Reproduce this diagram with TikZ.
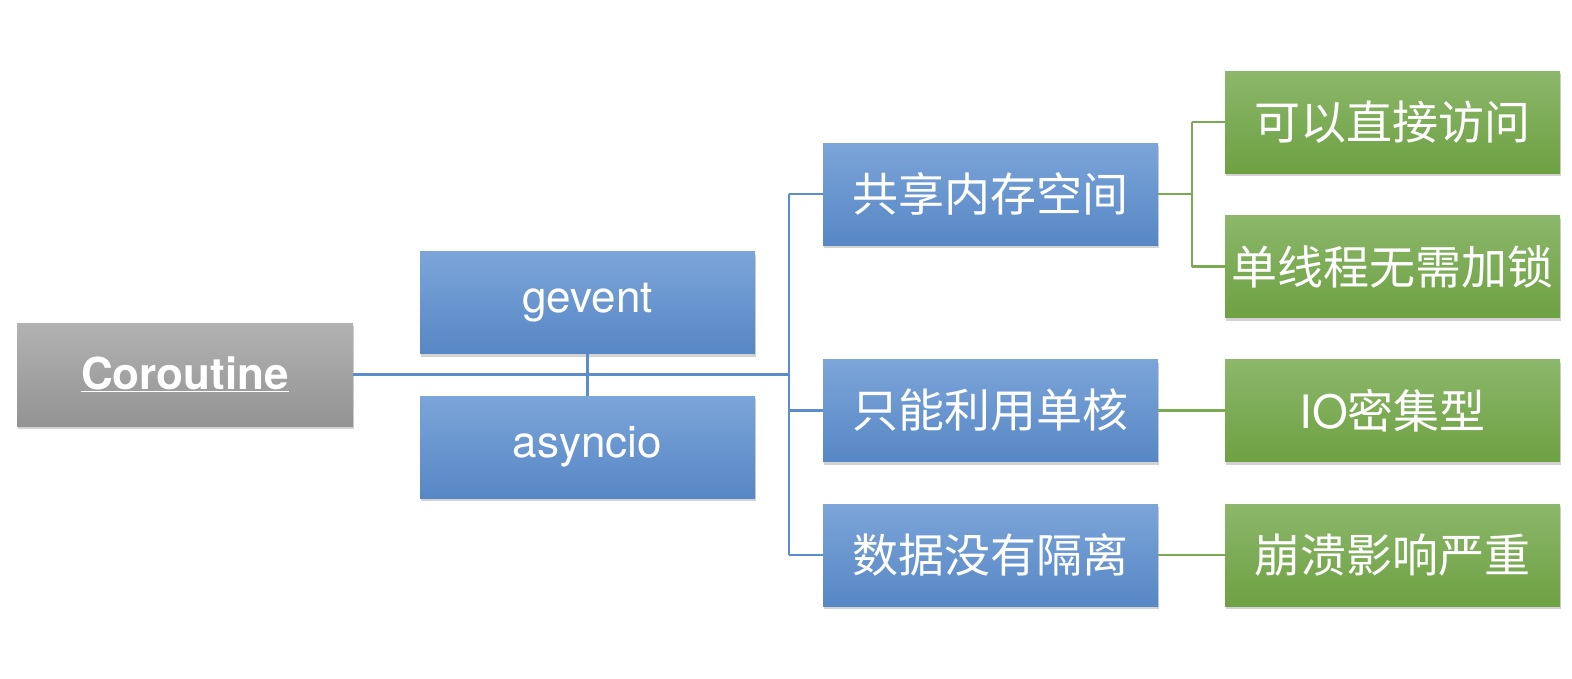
\documentclass[tikz,border=0pt]{standalone}
\usepackage{fontspec}
\setmainfont{TeX Gyre Heros}
\newfontfamily\cjk{Noto Sans CJK SC}
\usetikzlibrary{shadows}
\definecolor{bluetop}{HTML}{7CA5D9}
\definecolor{bluebot}{HTML}{5787C5}
\definecolor{greentop}{HTML}{8CB76B}
\definecolor{greenbot}{HTML}{6DA142}
\definecolor{graytop}{HTML}{B2B2B2}
\definecolor{graybot}{HTML}{939393}
\definecolor{blueline}{HTML}{5B8DCB}
\definecolor{greenline}{HTML}{7AAB52}
\tikzset{
  box/.style={minimum width=335pt, minimum height=102pt, inner sep=0pt, text=white,
    drop shadow={opacity=0.35, shadow xshift=1pt, shadow yshift=-3pt}},
  bluebox/.style={box, top color=bluetop, bottom color=bluebot},
  greenbox/.style={box, top color=greentop, bottom color=greenbot},
  graybox/.style={box, minimum width=336pt, minimum height=103pt, top color=graytop, bottom color=graybot},
  bline/.style={draw=blueline, line width=2.2pt},
  gline/.style={draw=greenline, line width=2.2pt},
  cjktext/.style={font=\cjk\fontsize{46}{52}\selectfont},
  lattext/.style={font=\fontsize{44}{50}\selectfont},
}
\begin{document}
\begin{tikzpicture}[x=1pt,y=-1pt]
\useasboundingbox (0,0) rectangle (1572,678);
% nodes
\node[graybox, font=\bfseries\fontsize{44}{50}\selectfont] (co) at (185,374.5) {\underline{Coroutine}};
\node[bluebox, lattext] (gev) at (587.5,302.5) {gevent};
\node[bluebox, lattext] (asy) at (587.5,447) {asyncio};
\node[bluebox, cjktext] (gx) at (990.5,194) {共享内存空间};
\node[bluebox, cjktext] (dh) at (990.5,410.5) {只能利用单核};
\node[bluebox, cjktext] (sj) at (990.5,555) {数据没有隔离};
\node[greenbox, cjktext] (kz) at (1392.5,122) {可以直接访问};
\node[greenbox, cjktext] (dx) at (1392.5,266.5) {单线程无需加锁};
\node[greenbox, cjktext] (io) at (1392.5,410.5) {\fontsize{46}{52}\fontspec{TeX Gyre Heros}IO\cjk 密集型};
\node[greenbox, cjktext] (bk) at (1392.5,555) {崩溃影响严重};
\coordinate (bus) at (789,374.5);
\coordinate (gbus) at (1192,194);
% connectors
\path[bline] (co.east) -- (bus);
\path[bline] (gev.south) -- (asy.north);
\path[bline] (bus |- gx.west) -- (bus |- sj.west);
\path[bline] (bus |- gx.west) -- (gx.west);
\path[bline] (bus |- dh.west) -- (dh.west);
\path[bline] (bus |- sj.west) -- (sj.west);
\path[gline] (gx.east) -- (gbus);
\path[gline] (gbus |- kz.west) -- (gbus |- dx.west);
\path[gline] (gbus |- kz.west) -- (kz.west);
\path[gline] (gbus |- dx.west) -- (dx.west);
\path[gline] (dh.east) -- (io.west);
\path[gline] (sj.east) -- (bk.west);
\end{tikzpicture}
\end{document}
